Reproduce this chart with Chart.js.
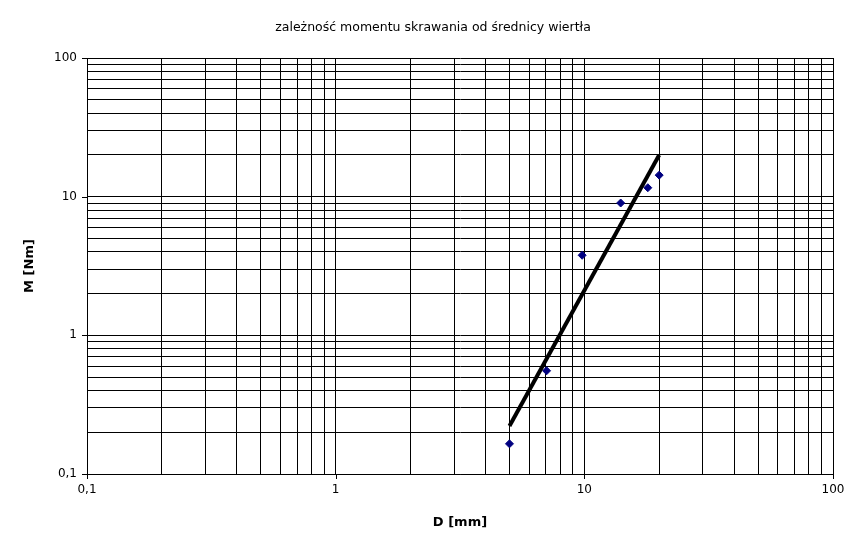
<!DOCTYPE html>
<html>
<head>
<meta charset="utf-8">
<script src="https://cdn.jsdelivr.net/npm/chart.js@4/dist/chart.umd.min.js"></script>
<style>
    html, body { margin: 0; padding: 0; background: #fff; }
    #wykres { width: 866px; height: 548px; position: relative; }
</style>
</head>
<body>
<div id="wykres"><canvas id="canvasWykres"></canvas></div>
<script>
// dane pomiarowe
const srednice = [5, 7.05, 9.8, 14, 18, 20];
const momenty = [0.165, 0.555, 3.78, 9.0, 11.6, 14.3];

// linia trendu (potęgowa)
const trendD = [5, 20];
const trendM = [0.222, 20];

const podzialki = [0.1, 0.2, 0.3, 0.4, 0.5, 0.6, 0.7, 0.8, 0.9,
    1, 2, 3, 4, 5, 6, 7, 8, 9,
    10, 20, 30, 40, 50, 60, 70, 80, 90, 100];
const glownePodzialki = [0.1, 1, 10, 100];

const czcionka = "'DejaVu Sans', sans-serif";

const formatuj = (v) => String(v).replace(".", ",");

const ustawPodzialki = (scale) => {
    scale.ticks = podzialki.map((v) => ({ value: v }));
};

// krótkie kreski tylko przy głównych podziałkach
const kreskiGlowne = {
    id: "kreskiGlowne",
    afterDraw(chart) {
        const { ctx, chartArea, scales } = chart;
        ctx.save();
        ctx.strokeStyle = "#000";
        ctx.lineWidth = 1;
        ctx.beginPath();
        glownePodzialki.forEach((v) => {
            const y = Math.round(scales.y.getPixelForValue(v)) + 0.5;
            ctx.moveTo(chartArea.left - 5, y);
            ctx.lineTo(chartArea.left, y);
            const x = Math.round(scales.x.getPixelForValue(v)) + 0.5;
            ctx.moveTo(x, chartArea.bottom);
            ctx.lineTo(x, chartArea.bottom + 5);
        });
        ctx.stroke();
        ctx.restore();
    },
};

new Chart(document.getElementById("canvasWykres"), {
    type: "scatter",
    data: {
        datasets: [
            {
                label: "M",
                data: srednice.map((d, i) => ({ x: d, y: momenty[i] })),
                pointStyle: "rectRot",
                pointRadius: 4,
                backgroundColor: "#000080",
                borderColor: "#000080",
                borderWidth: 1,
                order: 2,
            },
            {
                label: "trend",
                data: trendD.map((d, i) => ({ x: d, y: trendM[i] })),
                showLine: true,
                borderColor: "#000",
                borderWidth: 4,
                pointRadius: 0,
                order: 1,
            },
        ],
    },
    options: {
        responsive: true,
        maintainAspectRatio: false,
        animation: false,
        layout: {
            padding: 0,
        },
        plugins: {
            legend: { display: false },
            tooltip: { enabled: false },
            title: {
                display: true,
                text: "zależność momentu skrawania od średnicy wiertła",
                color: "#000",
                font: { family: czcionka, size: 12.5, weight: "normal", lineHeight: 1.2 },
                padding: { top: 20, bottom: 23 },
            },
        },
        scales: {
            x: {
                type: "logarithmic",
                min: 0.1,
                max: 100,
                afterBuildTicks: ustawPodzialki,
                afterFit: (scale) => { scale.height = 74; },
                grid: { color: "#000", lineWidth: 1, drawTicks: false },
                border: { color: "#000", width: 1 },
                ticks: {
                    autoSkip: false,
                    maxRotation: 0,
                    padding: 9,
                    color: "#000",
                    font: { family: czcionka, size: 12 },
                    callback: (v) => (glownePodzialki.includes(v) ? formatuj(v) : ""),
                },
                title: {
                    display: true,
                    text: "D [mm]",
                    color: "#000",
                    font: { family: czcionka, size: 13, weight: "bold", lineHeight: 1.2 },
                    padding: { top: 4, bottom: 18 },
                },
            },
            y: {
                type: "logarithmic",
                min: 0.1,
                max: 100,
                afterBuildTicks: ustawPodzialki,
                afterFit: (scale) => { scale.width = 87; },
                grid: { color: "#000", lineWidth: 1, drawTicks: false },
                border: { color: "#000", width: 1 },
                ticks: {
                    autoSkip: false,
                    padding: 10,
                    color: "#000",
                    font: { family: czcionka, size: 12 },
                    callback: (v) => (glownePodzialki.includes(v) ? formatuj(v) : ""),
                },
                title: {
                    display: true,
                    text: "M [Nm]",
                    color: "#000",
                    font: { family: czcionka, size: 13, weight: "bold", lineHeight: 1.2 },
                    padding: { top: 22, bottom: 4 },
                },
            },
            // pusty margines po prawej, żeby tytuł był na środku całego obrazka
            margines: {
                type: "linear",
                position: "right",
                afterFit: (scale) => { scale.width = 33; },
                grid: { display: false, drawTicks: false },
                border: { display: false },
                ticks: { display: false },
            },
        },
    },
    plugins: [kreskiGlowne],
});
</script>
</body>
</html>
